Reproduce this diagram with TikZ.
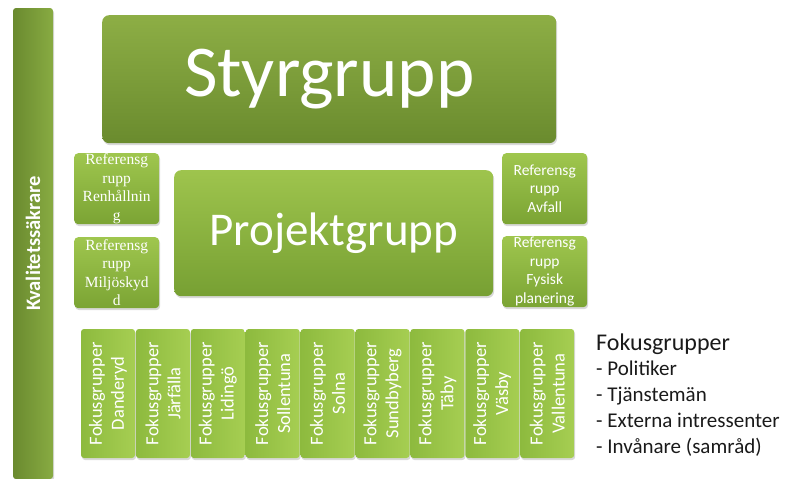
\documentclass[tikz,border=0pt]{standalone}
\usepackage{fontspec}
\setmainfont{Carlito}
\newfontfamily\refserif{Liberation Serif}
\usepackage{tikz}
\usetikzlibrary{shadows}
\definecolor{bartop}{HTML}{88AB42}
\definecolor{barbot}{HTML}{6A8A2F}
\definecolor{styrtop}{HTML}{8DAE45}
\definecolor{styrbot}{HTML}{6A8B2E}
\definecolor{projtop}{HTML}{9EC44D}
\definecolor{projbot}{HTML}{77A033}
\definecolor{reftop}{HTML}{9FC64E}
\definecolor{refbot}{HTML}{7BA434}
\definecolor{foktop}{HTML}{A6CE52}
\definecolor{fokbot}{HTML}{8DBA3E}
\definecolor{legtext}{HTML}{1A1A1A}
\tikzset{
    grpbox/.style={
        inner sep=0pt, text=white, align=center,
        drop shadow={shadow xshift=1pt, shadow yshift=-2pt, opacity=0.3}
    },
    bigbox/.style={
        grpbox, anchor=north west, rounded corners=7pt
    },
    refbox/.style={
        grpbox, anchor=north west, rounded corners=4pt,
        minimum width=85, minimum height=71,
        top color=reftop, bottom color=refbot,
        font=\fontsize{15.5}{18.5}\selectfont
    },
    fokbox/.style={
        grpbox, rotate=90, rounded corners=3pt,
        minimum width=129, minimum height=54,
        left color=fokbot, right color=foktop,
        font=\fontsize{18.5}{22}\selectfont
    },
    leg/.style={
        anchor=base west, inner sep=0pt, text=legtext,
        font=\fontsize{21}{25}\selectfont
    }
}

\begin{document}
\begin{tikzpicture}[x=1pt, y=-1pt]

\useasboundingbox (0,0) rectangle (785,479);

% side bar
\node[grpbox, rotate=90, rounded corners=3pt, minimum width=471, minimum height=40,
      left color=barbot, right color=bartop,
      font=\bfseries\fontsize{20.5}{24}\selectfont] (kval) at (33,243.5) {Kvalitetss\"akrare};

% top level
\node[bigbox, minimum width=454, minimum height=128,
      top color=styrtop, bottom color=styrbot,
      font=\fontsize{73}{80}\selectfont] (styr) at (102,15) {Styrgrupp};

\node[bigbox, minimum width=319, minimum height=126,
      top color=projtop, bottom color=projbot,
      font=\fontsize{47}{52}\selectfont] (proj) at (174,170) {Projektgrupp};

% reference groups
\node[refbox, font=\refserif\fontsize{15.5}{18.5}\selectfont] (refren) at (74,153) {Referensg\\rupp\\Renh\aa llnin\\g};
\node[refbox, font=\refserif\fontsize{15.5}{18.5}\selectfont] (refmil) at (74,237) {Referensg\\rupp\\Milj\"oskyd\\d};
\node[refbox] (refavf) at (502,153) {Referensg\\rupp\\Avfall};
\node[refbox] (reffys) at (502,236) {Referensg\\rupp\\Fysisk\\planering};

% focus groups
\foreach \kom [count=\i from 0] in {Danderyd,J\"arf\"alla,Liding\"o,Sollentuna,Solna,Sundbyberg,T\"aby,V\"asby,Vallentuna} {
  \node[fokbox] (fok\i) at ({108+54.9*\i},393.5) {Fokusgrupper\\\kom};
}

% legend
\node[leg, font=\fontsize{24}{28}\selectfont] (leg0) at (596,350) {Fokusgrupper};
\node[leg] (leg1) at (596,375.5) {- Politiker};
\node[leg] (leg2) at (596,401.5) {- Tj\"anstem\"an};
\node[leg] (leg3) at (596,427.5) {- Externa intressenter};
\node[leg] (leg4) at (596,453) {- Inv\aa nare (samr\aa d)};

\end{tikzpicture}
\end{document}
